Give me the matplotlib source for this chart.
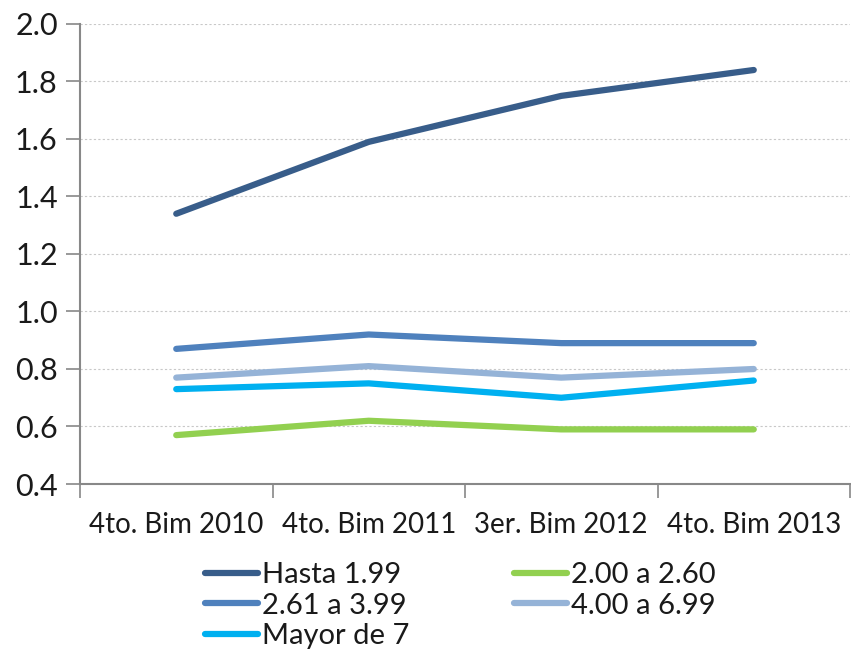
import matplotlib
matplotlib.use("Agg")
import matplotlib.pyplot as plt
from matplotlib.ticker import FixedLocator, MultipleLocator

plt.rcParams['font.family'] = ['Lato', 'DejaVu Sans']
plt.rcParams['font.weight'] = 'normal'
plt.rcParams['text.color'] = '#1a1a1a'

# data
periods = ['4to. Bim 2010', '4to. Bim 2011', '3er. Bim 2012', '4to. Bim 2013']
hasta_199 = [1.34, 1.59, 1.75, 1.84]
de_200_a_260 = [0.57, 0.62, 0.59, 0.59]
de_261_a_399 = [0.87, 0.92, 0.89, 0.89]
de_400_a_699 = [0.77, 0.81, 0.77, 0.80]
mayor_7 = [0.73, 0.75, 0.70, 0.76]

series = {
    'Hasta 1.99': (hasta_199, '#385D8A'),
    '2.00 a 2.60': (de_200_a_260, '#92D050'),
    '2.61 a 3.99': (de_261_a_399, '#4F81BD'),
    '4.00 a 6.99': (de_400_a_699, '#95B3D7'),
    'Mayor de 7': (mayor_7, '#00B0F0'),
}

fig = plt.figure(figsize=(8.51, 6.60), dpi=100)
ax = fig.add_axes([80 / 851, 1 - 484 / 660, 770 / 851, 460 / 660])

x = list(range(len(periods)))
lines = {}
for name, (vals, color) in series.items():
    lines[name], = ax.plot(x, vals, color=color, linewidth=4.5, solid_capstyle='round',
                           solid_joinstyle='round', label=name)

ax.set_xlim(-0.5, len(periods) - 0.5)
ax.set_ylim(0.4, 2.0)
ax.yaxis.set_major_locator(MultipleLocator(0.2))
ax.yaxis.set_major_formatter(plt.FuncFormatter(lambda v, p: f'{v:.1f}'))

ax.set_xticks(x)
ax.set_xticklabels(periods)
ax.xaxis.set_minor_locator(FixedLocator([i - 0.5 for i in range(len(periods) + 1)]))
ax.tick_params(axis='x', which='major', length=0, pad=20, labelsize=20, labelcolor='#1a1a1a')
ax.tick_params(axis='x', which='minor', length=10, width=1.2, color='#888888')
ax.tick_params(axis='y', length=10, width=1.2, color='#888888', labelsize=22,
               labelcolor='#1a1a1a', pad=6)

ax.grid(axis='y', linestyle=(0, (2, 2)), color='#c8c8c8', linewidth=0.8)
ax.set_axisbelow(True)
for side in ['top', 'right']:
    ax.spines[side].set_visible(False)
for side in ['left', 'bottom']:
    ax.spines[side].set_color('#888888')
    ax.spines[side].set_linewidth(1.5)

# legend fills column by column, so order it to read row by row like the original
order = ['Hasta 1.99', '2.61 a 3.99', 'Mayor de 7', '2.00 a 2.60', '4.00 a 6.99']
fig.legend([lines[n] for n in order], order, loc='upper left',
           bbox_to_anchor=(205 / 851, 1 - 562 / 660),
           ncol=2, frameon=False, fontsize=21, handlelength=1.8,
           handletextpad=0.15, columnspacing=3.6, labelspacing=0.16,
           borderpad=0, borderaxespad=0)

fig.savefig('out.png', dpi=100)
